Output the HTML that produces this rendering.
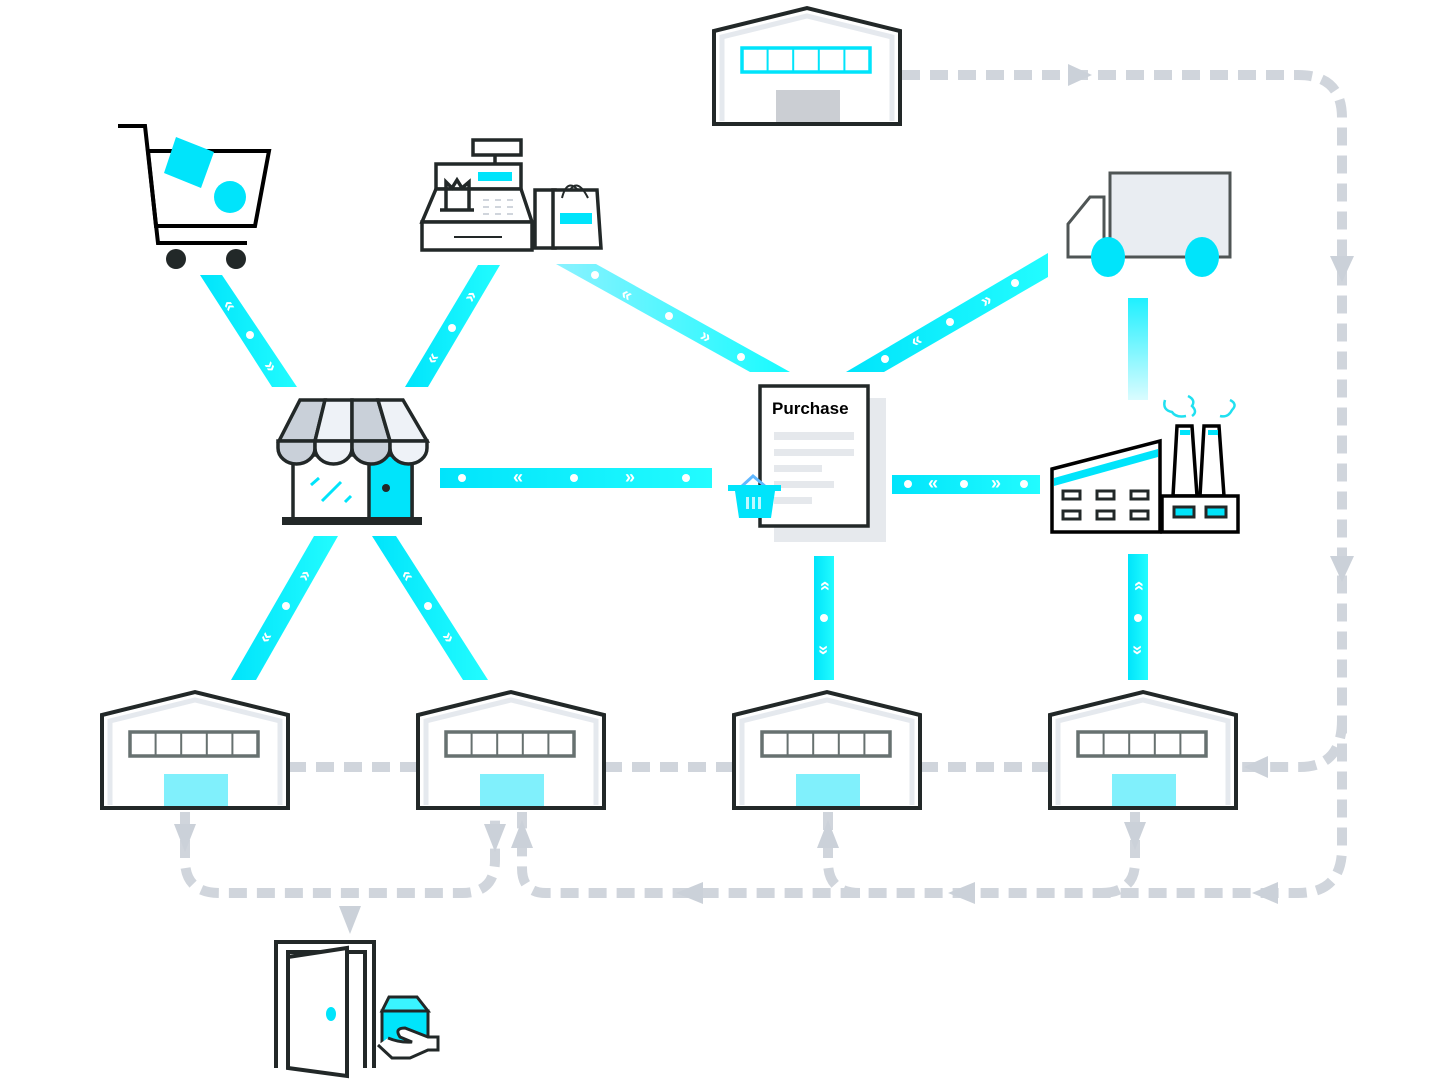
<!DOCTYPE html>
<html><head><meta charset="utf-8"><style>
html,body{margin:0;padding:0;background:#fff;}
svg{display:block;font-family:"Liberation Sans",sans-serif;}
</style></head><body>
<svg width="1444" height="1080" viewBox="0 0 1444 1080" xmlns="http://www.w3.org/2000/svg">
<defs>
<linearGradient id="gc" x1="0" y1="0" x2="1" y2="0"><stop offset="0" stop-color="#00e4fb"/><stop offset="1" stop-color="#22fcff"/></linearGradient>
<linearGradient id="gl" x1="0" y1="0" x2="1" y2="0"><stop offset="0" stop-color="#8af2ff"/><stop offset="1" stop-color="#18fbff"/></linearGradient>
<linearGradient id="gv" x1="0" y1="0" x2="0" y2="1"><stop offset="0" stop-color="#1ef0ff"/><stop offset="1" stop-color="#dafcff"/></linearGradient>
<g id="wh">
<polygon points="0,23 93,0 186,23 186,116 0,116" fill="#fff" stroke="#222828" stroke-width="4"/>
<polyline points="8,113 8,29 93,8 178,29 178,113" fill="none" stroke="#e5e9ee" stroke-width="5"/>
</g>
<g id="win" fill="none" stroke="#677170" stroke-width="3.5">
<rect x="28" y="40" width="128" height="24"/>
<line x1="53.6" y1="40" x2="53.6" y2="64" stroke-width="2"/><line x1="79.2" y1="40" x2="79.2" y2="64" stroke-width="2"/><line x1="104.8" y1="40" x2="104.8" y2="64" stroke-width="2"/><line x1="130.4" y1="40" x2="130.4" y2="64" stroke-width="2"/>
</g>
</defs>

<!-- dashed paths -->
<g fill="none" stroke="#d0d5dc" stroke-width="10" stroke-dasharray="18 10">
<path d="M902 75 H1298 Q1342 75 1342 118 V848 Q1342 893 1298 893 H546 Q522 893 522 868 V812"/>
<path d="M1342 720 Q1342 767 1300 767 H1240"/>
<path d="M288 767 H418 M604 767 H734 M920 767 H1050"/>
<path d="M1135 812 V862 Q1135 893 1100 893"/>
<path d="M828 812 V862 Q828 893 860 893"/>
<path d="M185 812 V860 Q185 893 220 893 H462 Q495 893 495 860 V812"/>
</g>
<g fill="#cbd1d9">
<polygon points="1068,64 1068,86 1092,75"/>
<polygon points="1330,256 1354,256 1342,282"/>
<polygon points="1330,556 1354,556 1342,582"/>
<polygon points="1268,756 1268,778 1244,767"/>
<polygon points="1278,882 1278,904 1252,893"/>
<polygon points="975,882 975,904 948,893"/>
<polygon points="703,882 703,904 676,893"/>
<polygon points="511,848 533,848 522,820"/>
<polygon points="817,848 839,848 828,820"/>
<polygon points="1124,822 1146,822 1135,850"/>
<polygon points="174,824 196,824 185,852"/>
<polygon points="484,824 506,824 495,852"/>
<polygon points="339,906 361,906 350,934"/>
</g>

<!-- cyan connectors -->
<polygon points="200,275 222,275 297,387 272,387" fill="url(#gc)"/>
<polygon points="478,265 500,265 428,387 405,387" fill="url(#gc)"/>
<polygon points="556,264 596,264 790,372 750,372" fill="url(#gl)"/>
<polygon points="846,372 884,372 1048,277 1048,253" fill="url(#gc)"/>
<rect x="440" y="468" width="272" height="20" fill="url(#gc)"/>
<rect x="892" y="475" width="148" height="19" fill="url(#gc)"/>
<rect x="1128" y="298" width="20" height="102" fill="url(#gv)"/>
<polygon points="231,680 256,680 338,536 314,536" fill="url(#gc)"/>
<polygon points="372,536 396,536 488,680 463,680" fill="url(#gc)"/>
<rect x="814" y="556" width="20" height="124" fill="url(#gc)"/>
<rect x="1128" y="554" width="20" height="126" fill="url(#gc)"/>
<g fill="#fff">
<circle cx="250" cy="335" r="4"/><circle cx="452" cy="328" r="4"/>
<circle cx="595" cy="275" r="4"/><circle cx="669" cy="316" r="4"/><circle cx="741" cy="357" r="4"/>
<circle cx="885" cy="359" r="4"/><circle cx="950" cy="322" r="4"/><circle cx="1015" cy="283" r="4"/>
<circle cx="462" cy="478" r="4"/><circle cx="574" cy="478" r="4"/><circle cx="686" cy="478" r="4"/>
<circle cx="908" cy="484" r="4"/><circle cx="964" cy="484" r="4"/><circle cx="1024" cy="484" r="4"/>
<circle cx="286" cy="606" r="4"/><circle cx="428" cy="606" r="4"/>
<circle cx="824" cy="618" r="4"/><circle cx="1138" cy="618" r="4"/>
</g>
<g fill="#fff" font-size="18" font-weight="bold" text-anchor="middle" dominant-baseline="central">
<text x="518" y="477">«</text><text x="630" y="477">»</text>
<text x="933" y="483">«</text><text x="996" y="483">»</text>
<text transform="translate(824,586) rotate(-90)">»</text><text transform="translate(824,650) rotate(90)">»</text>
<text transform="translate(1138,586) rotate(-90)">»</text><text transform="translate(1138,650) rotate(90)">»</text>
<text transform="translate(230,305) rotate(56)">«</text><text transform="translate(271,366) rotate(56)">»</text>
<text transform="translate(470,296) rotate(-59)">»</text><text transform="translate(432,358) rotate(-59)">«</text>
<text transform="translate(627,294) rotate(29)">«</text><text transform="translate(706,336) rotate(29)">»</text>
<text transform="translate(916,340) rotate(-30)">«</text><text transform="translate(986,300) rotate(-30)">»</text>
<text transform="translate(304,575) rotate(-60)">»</text><text transform="translate(265,637) rotate(-60)">«</text>
<text transform="translate(408,575) rotate(57)">«</text><text transform="translate(449,637) rotate(57)">»</text>
</g>

<!-- warehouses -->
<use href="#wh" x="714" y="8"/>
<g transform="translate(714,8)" fill="none" stroke="#00e4fb" stroke-width="3.5">
<rect x="28" y="40" width="128" height="24"/>
<path d="M53.6 40V64M79.2 40V64M104.8 40V64M130.4 40V64" stroke-width="2"/>
</g>
<rect x="776" y="90" width="64" height="32" fill="#cbced3"/>
<g>
<use href="#wh" x="102" y="692"/><use href="#win" x="102" y="692"/><rect x="164" y="774" width="64" height="32" fill="#80f0fc"/>
<use href="#wh" x="418" y="692"/><use href="#win" x="418" y="692"/><rect x="480" y="774" width="64" height="32" fill="#80f0fc"/>
<use href="#wh" x="734" y="692"/><use href="#win" x="734" y="692"/><rect x="796" y="774" width="64" height="32" fill="#80f0fc"/>
<use href="#wh" x="1050" y="692"/><use href="#win" x="1050" y="692"/><rect x="1112" y="774" width="64" height="32" fill="#80f0fc"/>
</g>

<!-- cart -->
<g fill="none" stroke="#000" stroke-width="4">
<polyline points="118,126 145,126 158,243 247,243"/>
<polygon points="148,151 269,151 255,226 156,226"/>
</g>
<polygon points="176,137 214,152 201,188 164,173" fill="#00e4fb"/>
<circle cx="230" cy="197" r="16" fill="#00e4fb"/>
<circle cx="176" cy="259" r="10" fill="#222828"/><circle cx="236" cy="259" r="10" fill="#222828"/>

<!-- register -->
<g fill="none" stroke="#222828" stroke-width="3.5">
<rect x="473" y="140" width="48" height="15"/>
<line x1="495" y1="155" x2="495" y2="165"/>
<rect x="436" y="164" width="85" height="25" fill="#fff"/>
<polygon points="436,189 521,189 532,222 422,222" fill="#fff"/>
<rect x="422" y="222" width="110" height="28" fill="#fff"/>
<line x1="454" y1="237" x2="502" y2="237" stroke-width="2"/>
<polyline points="446,210 446,182 452,188 457,180 462,188 469,182 469,210"/>
<line x1="440" y1="210" x2="474" y2="210"/>
<rect x="535" y="190" width="20" height="58" fill="#fff"/>
<polygon points="553,190 597,190 601,248 553,248" fill="#fff"/>
<path d="M562 198 Q567 178 578 190 M570 190 Q578 178 588 198" stroke-width="2"/>
</g>
<rect x="478" y="172" width="34" height="9" fill="#00e4fb"/>
<rect x="560" y="213" width="32" height="11" fill="#00e4fb"/>
<g fill="#d0d5dc"><rect x="483" y="199" width="6" height="2"/><rect x="495" y="199" width="6" height="2"/><rect x="507" y="199" width="6" height="2"/><rect x="483" y="206" width="6" height="2"/><rect x="495" y="206" width="6" height="2"/><rect x="507" y="206" width="6" height="2"/><rect x="483" y="213" width="6" height="2"/><rect x="495" y="213" width="6" height="2"/><rect x="507" y="213" width="6" height="2"/></g>

<!-- store -->
<g stroke="#222828" stroke-width="3.5">
<rect x="293" y="455" width="119" height="65" fill="#fff"/>
<rect x="369" y="455" width="43" height="65" fill="#00e4fb"/>
<polygon points="300,400 325,400 315,441 279,441" fill="#c9d0d9"/>
<polygon points="325,400 352,400 352,441 315,441" fill="#eef2f7"/>
<polygon points="352,400 378,400 390,441 352,441" fill="#c9d0d9"/>
<polygon points="378,400 403,400 427,441 390,441" fill="#eef2f7"/>
<path d="M278 441 H315 V448 A18.5 16 0 0 1 278 448Z" fill="#c9d0d9"/>
<path d="M315 441 H352 V448 A18.5 16 0 0 1 315 448Z" fill="#eef2f7"/>
<path d="M352 441 H390 V448 A19 16 0 0 1 352 448Z" fill="#c9d0d9"/>
<path d="M390 441 H427 V448 A18.5 16 0 0 1 390 448Z" fill="#eef2f7"/>
</g>
<rect x="282" y="517" width="140" height="8" fill="#222828"/>
<circle cx="386" cy="488" r="4" fill="#222828"/>
<g stroke="#00e4fb" stroke-width="3"><line x1="311" y1="485" x2="319" y2="478"/><line x1="322" y1="501" x2="341" y2="482"/><line x1="345" y1="502" x2="351" y2="496"/></g>

<!-- purchase doc -->
<rect x="774" y="398" width="112" height="144" fill="#e6e9ed"/>
<rect x="760" y="386" width="108" height="140" fill="#fff" stroke="#222828" stroke-width="3.5"/>
<text x="772" y="414" font-size="17" font-weight="bold" fill="#000">Purchase</text>
<g fill="#e5e8ec"><rect x="774" y="432" width="80" height="8"/><rect x="774" y="449" width="80" height="7"/><rect x="774" y="465" width="48" height="7"/><rect x="774" y="481" width="60" height="7"/><rect x="774" y="497" width="38" height="7"/></g>
<polyline points="741,487 753,476 766,487" fill="none" stroke="#60b8ff" stroke-width="3"/>
<rect x="728" y="485" width="53" height="6" fill="#00e4fb"/>
<polygon points="735,491 775,491 771,518 739,518" fill="#00e4fb"/>
<g fill="#bff8ff"><rect x="746" y="497" width="3" height="12"/><rect x="752" y="497" width="3" height="12"/><rect x="758" y="497" width="3" height="12"/></g>

<!-- truck -->
<rect x="1110" y="173" width="120" height="84" fill="#e9edf2" stroke="#4f5555" stroke-width="3"/>
<polygon points="1068,257 1068,224 1090,197 1104,197 1104,257" fill="#fff" stroke="#4f5555" stroke-width="3"/>
<line x1="1068" y1="257" x2="1230" y2="257" stroke="#4f5555" stroke-width="3"/>
<ellipse cx="1108" cy="257" rx="17" ry="20" fill="#00e4fb"/>
<ellipse cx="1202" cy="257" rx="17" ry="20" fill="#00e4fb"/>

<!-- factory -->
<g stroke="#000" stroke-width="3.5">
<polygon points="1177,426 1192,426 1197,496 1173,496" fill="#fff"/>
<polygon points="1204,426 1219,426 1224,496 1200,496" fill="#fff"/>
<polygon points="1052,469 1160,441 1160,532 1052,532" fill="#fff"/>
<rect x="1162" y="496" width="76" height="36" fill="#fff"/>
</g>
<polygon points="1054,478 1158,449 1158,457 1054,486" fill="#00e4fb"/>
<rect x="1180" y="430" width="10" height="5" fill="#00e4fb"/><rect x="1208" y="430" width="10" height="5" fill="#00e4fb"/>
<g fill="none" stroke="#222828" stroke-width="3"><rect x="1063" y="491" width="17" height="8"/><rect x="1097" y="491" width="17" height="8"/><rect x="1131" y="491" width="17" height="8"/><rect x="1063" y="511" width="17" height="8"/><rect x="1097" y="511" width="17" height="8"/><rect x="1131" y="511" width="17" height="8"/>
<rect x="1174" y="507" width="20" height="10" fill="#00e4fb"/><rect x="1206" y="507" width="20" height="10" fill="#00e4fb"/></g>
<g fill="none" stroke="#20e0f0" stroke-width="2.5"><path d="M1165 400 Q1162 410 1172 412 Q1176 418 1186 416"/><path d="M1188 396 Q1196 400 1192 406 Q1198 412 1192 416"/><path d="M1230 400 Q1238 404 1232 410 Q1228 418 1220 416"/></g>

<!-- door -->
<g fill="none" stroke="#222828" stroke-width="4">
<polyline points="276,1068 276,942 374,942 374,1068"/>
<polyline points="365,1068 365,952 288,952 288,1068"/>
<polygon points="288,957 347,948 347,1076 288,1068" fill="#fff"/>
</g>
<ellipse cx="331" cy="1014" rx="5" ry="7" fill="#00e4fb"/>
<g stroke="#222828" stroke-width="3">
<polygon points="389,997 417,997 428,1011 382,1011" fill="#3af3ff"/>
<rect x="382" y="1011" width="46" height="33" fill="#00e4fb"/>
<path d="M378 1045 L392 1058 L410 1058 L428 1050 L438 1050 L438 1037 L428 1037 L405 1028 Q394 1028 400 1037 L412 1042 Q400 1043 388 1038" fill="#fff"/>
</g>
</svg>
</body></html>
